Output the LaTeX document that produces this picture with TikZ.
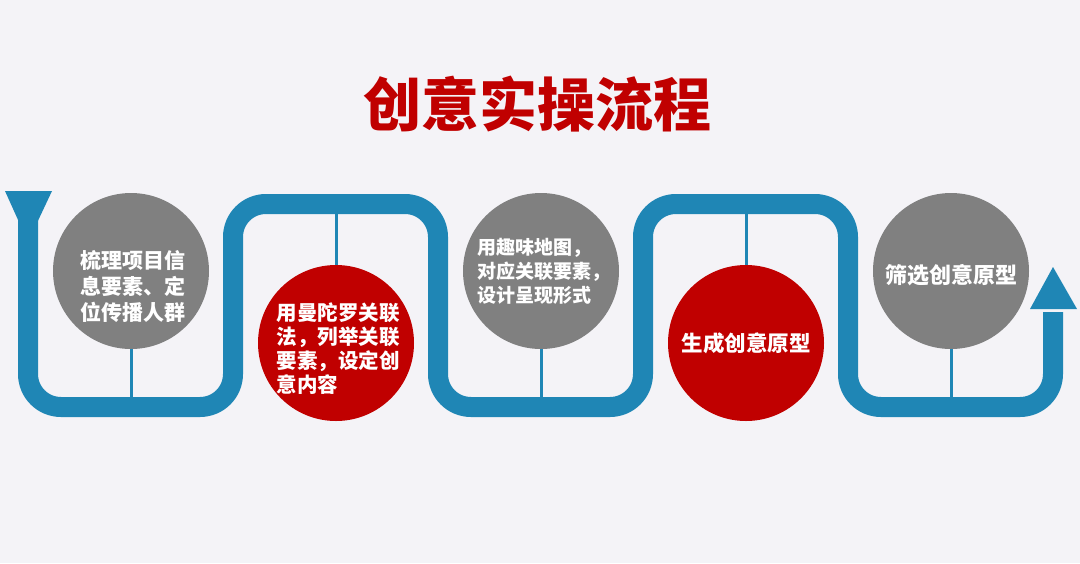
\documentclass[tikz,border=0pt]{standalone}
\usepackage{fontspec}
\setmainfont{Noto Sans CJK SC}
\usepackage{tikz}
\usetikzlibrary{positioning}

\definecolor{bandblue}{HTML}{1F86B5}
\definecolor{stepred}{HTML}{C00000}
\definecolor{stepgray}{HTML}{808080}
\definecolor{paper}{HTML}{F4F3F7}

\begin{document}
\begin{tikzpicture}[x=1pt,y=-1pt]
				\tikzstyle{stage} = [circle, minimum size=156pt, inner sep=0pt]
				\tikzstyle{graystage} = [stage, fill=stepgray]
				\tikzstyle{redstage} = [stage, fill=stepred]
				\tikzstyle{steptext} = [text=white, align=left, inner sep=0pt, font=\bfseries]
				\tikzstyle{band} = [draw=bandblue, line width=20pt, rounded corners=33pt]
				\tikzstyle{stub} = [draw=bandblue, line width=3pt]

				\fill[paper] (0,0) rectangle (1080,563);
				\node[text=stepred, font=\bfseries\fontsize{58}{58}\selectfont] (title) at (537,104) {创意实操流程};

				% the winding band
				\coordinate (start) at (28,212);
				\coordinate (finish) at (1053,312);
				\draw[band] (start) -- (28,407) -- (233,407) -- (233,204) -- (438,204) -- (438,407)
				      -- (643,407) -- (643,204) -- (848,204) -- (848,407) -- (1053,407) -- (finish);
				\fill[bandblue] (5,191) -- (52,191) -- (start |- 0,242) -- cycle;
				\fill[bandblue] (1030,309) -- (1077,309) -- (finish |- 0,267) -- cycle;

				\node[graystage] (idea1) at (131,271) {};
				\node[redstage] (idea2) at (336,343) {};
				\node[graystage] (idea3) at (541,271) {};
				\node[redstage] (idea4) at (746,343) {};
				\node[graystage] (idea5) at (951,271) {};
				\foreach \n in {1,3,5}
				  \draw[stub] (idea\n.south) -- ++(0,49);
				\foreach \n in {2,4}
				  \draw[stub] (idea\n.north) -- ++(0,-53);

				\node[steptext, font=\bfseries\fontsize{21}{26}\selectfont] (text1) at ([xshift=2pt,yshift=-15pt]idea1.center) {梳理项目信\\息要素、定\\位传播人群};
				\node[steptext, font=\bfseries\fontsize{20.5}{24}\selectfont] (text2) at ([xshift=2pt,yshift=-6pt]idea2.center) {用曼陀罗关联\\法，列举关联\\要素，设定创\\意内容};
				\node[steptext, font=\bfseries\fontsize{19}{24}\selectfont] (text3) at ([xshift=3pt]idea3.center) {用趣味地图，\\对应关联要素，\\设计呈现形式};
				\node[steptext, font=\bfseries\fontsize{21.5}{26}\selectfont] (text4) at (idea4.center) {生成创意原型};
				\node[steptext, font=\bfseries\fontsize{22}{26}\selectfont] (text5) at ([yshift=-4pt]idea5.center) {筛选创意原型};
			\end{tikzpicture}
\end{document}
